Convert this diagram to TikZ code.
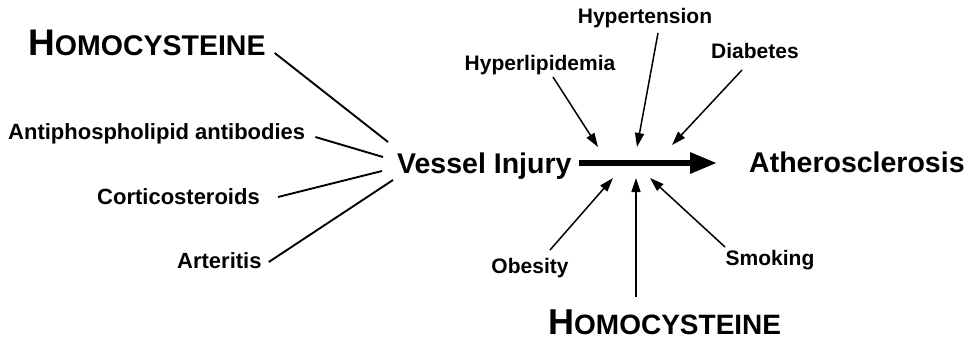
\documentclass[tikz,border=0pt]{standalone}
\usepackage{fontspec}
\setmainfont{Liberation Sans}
\usetikzlibrary{arrows.meta,calc}
\newcommand\homword[2]{{\fontsize{#1}{#1}\selectfont H}{\fontsize{#2}{#2}\selectfont OMOCYSTEINE}}
\begin{document}
\begin{tikzpicture}[x=1pt,y=-1pt,
  lbl/.style={inner sep=0pt, font=\bfseries\fontsize{22}{24}\selectfont},
  rlbl/.style={inner sep=0pt, font=\bfseries\fontsize{21}{23}\selectfont},
  big/.style={inner sep=0pt, font=\bfseries\fontsize{28.5}{30}\selectfont},
  hom/.style={inner sep=0pt, font=\bfseries},
  link/.style={line width=1.9pt, black},
  feed/.style={line width=1.5pt, -{Triangle[length=14pt,width=9pt]}},
  mainarrow/.style={line width=6pt, -{Triangle[length=27pt,width=20pt]}}]
\fill[white] (0,0) rectangle (969,341);
\useasboundingbox (0,0) rectangle (969,341);

% left side
\node[hom, anchor=base west] (homT) at (28,55) {\homword{37}{28.5}};
\node[lbl, anchor=base west] (anti) at (8,139) {Antiphospholipid antibodies};
\node[lbl, anchor=base west] (cort) at (97,204) {Corticosteroids};
\node[lbl, anchor=base west] (arte) at (177,268) {Arteritis};

% centre
\node[big, anchor=base west] (vi) at (397,173) {Vessel Injury};
\node[big, anchor=base west] (ath) at (749,172) {Atherosclerosis};

% right side labels
\node[rlbl, anchor=base] (hyl) at (540,70) {Hyperlipidemia};
\node[rlbl, anchor=base] (hyt) at (645,23) {Hypertension};
\node[rlbl, anchor=base] (dia) at (755,58) {Diabetes};
\node[rlbl, anchor=base] (obe) at (530,273) {Obesity};
\node[rlbl, anchor=base] (smo) at (770,265) {Smoking};
\node[hom, anchor=base west] (homB) at (548,334) {\homword{36}{28}};

% tips of the contributing arrows
\coordinate (tHyl) at (598,147);
\coordinate (tHyt) at (637,147);
\coordinate (tDia) at (672,145);
\coordinate (tObe) at (613,178);
\coordinate (tHom) at (636,178);
\coordinate (tSmo) at (650,178);

% left connectors
\draw[link] ($(homT.base east)+(9,-2)$) -- ($(vi.base west)+(-9,-31)$);
\draw[link] ($(anti.base east)+(10,-2)$) -- ($(vi.base west)+(-14,-16)$);
\draw[link] ($(cort.base east)+(18,-7)$) -- ($(vi.base west)+(-15,-2)$);
\draw[link] ($(arte.base east)+(7,-6)$) -- ($(vi.base west)+(-4,7)$);

% main arrow
\draw[mainarrow] ($(vi.base east)+(7,-10)$) -- ($(ath.base west)+(-32,-9)$);

% contributing arrows
\draw[feed] ($(hyl.base)+(13,7)$) -- (tHyl);
\draw[feed] ($(hyt.base)+(13,10)$) -- (tHyt);
\draw[feed] ($(dia.base)+(-13,12)$) -- (tDia);
\draw[feed] ($(obe.base)+(20,-23)$) -- (tObe);
\draw[feed] ($(homB.base west)+(88,-37)$) -- (tHom);
\draw[feed] ($(smo.base)+(-45,-18)$) -- (tSmo);
\end{tikzpicture}
\end{document}
